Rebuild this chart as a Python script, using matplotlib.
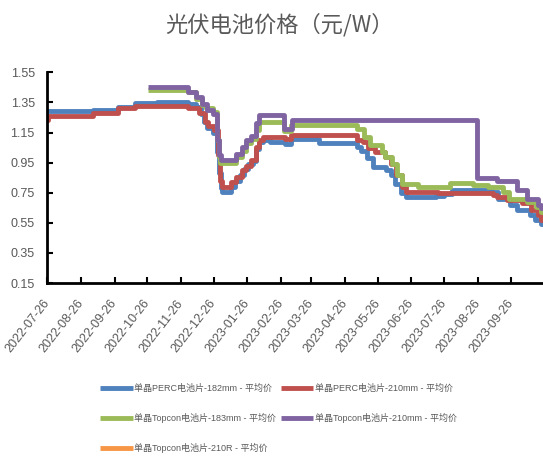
import pandas as pd
import matplotlib
matplotlib.use('Agg')
import matplotlib.pyplot as plt
import matplotlib.dates as mdates

plt.rcParams['font.family'] = ['Liberation Sans', 'Noto Sans CJK SC', 'DejaVu Sans']

title = '光伏电池价格（元/W）'
labels = ['单晶PERC电池片-182mm - 平均价', '单晶PERC电池片-210mm - 平均价',
          '单晶Topcon电池片-183mm - 平均价', '单晶Topcon电池片-210mm - 平均价',
          '单晶Topcon电池片-210R - 平均价']
colors = ['#4F81BD', '#C0504D', '#9BBB59', '#8064A2', '#F79646']

blue_dates = ['2022-07-26', '2022-09-06', '2022-09-29', '2022-10-15', '2022-11-04',
              '2022-12-02', '2022-12-10', '2022-12-14', '2022-12-17', '2022-12-20',
              '2022-12-25', '2022-12-29', '2022-12-31', '2023-01-02', '2023-01-03',
              '2023-01-11', '2023-01-15', '2023-01-19', '2023-01-23', '2023-01-27',
              '2023-01-31', '2023-02-03', '2023-02-06', '2023-02-09', '2023-02-16',
              '2023-03-02', '2023-03-07', '2023-04-02', '2023-05-07', '2023-05-11',
              '2023-05-16', '2023-05-22', '2023-06-03', '2023-06-07', '2023-06-11',
              '2023-06-16', '2023-06-21', '2023-07-19', '2023-07-26', '2023-08-02',
              '2023-09-08', '2023-09-14', '2023-09-25', '2023-10-01', '2023-10-13',
              '2023-10-18', '2023-10-23', '2023-10-25']
blue_vals = [1.29, 1.30, 1.32, 1.345, 1.355,
             1.34, 1.32, 1.27, 1.22, 1.18,
             1.15, 1.02, 0.88, 0.78, 0.755,
             0.79, 0.83, 0.87, 0.91, 0.94,
             0.96, 1.04, 1.09, 1.10, 1.09,
             1.075, 1.11, 1.08, 1.055, 1.03,
             0.98, 0.92, 0.90, 0.87, 0.81,
             0.745, 0.72, 0.73, 0.74, 0.765,
             0.756, 0.71, 0.667, 0.634, 0.60,
             0.568, 0.54, 0.54]

red_dates = ['2022-07-26', '2022-07-27', '2022-09-06', '2022-09-29', '2022-10-15',
             '2022-12-02', '2022-12-13', '2022-12-18', '2022-12-21', '2022-12-26',
             '2022-12-30', '2023-01-01', '2023-01-03', '2023-01-11', '2023-01-16',
             '2023-01-21', '2023-01-25', '2023-01-29', '2023-02-03', '2023-02-06',
             '2023-02-09', '2023-03-02', '2023-03-07', '2023-05-07', '2023-05-12',
             '2023-05-17', '2023-05-23', '2023-06-02', '2023-06-07', '2023-06-12',
             '2023-06-17', '2023-06-21', '2023-07-20', '2023-09-09', '2023-09-13',
             '2023-09-22', '2023-10-06', '2023-10-14', '2023-10-20', '2023-10-23',
             '2023-10-25']
red_vals = [1.23, 1.26, 1.28, 1.31, 1.325,
            1.31, 1.28, 1.22, 1.19, 1.165,
            1.00, 0.83, 0.79, 0.82, 0.855,
            0.90, 0.93, 0.966, 1.055, 1.10,
            1.12, 1.105, 1.135, 1.10, 1.087,
            1.044, 1.02, 0.988, 0.944, 0.867,
            0.79, 0.756, 0.745, 0.734, 0.723,
            0.70, 0.68, 0.634, 0.60, 0.57,
            0.57]

green_dates = ['2022-10-27', '2022-12-02', '2022-12-10', '2022-12-15', '2022-12-19',
               '2022-12-25', '2022-12-29', '2022-12-31', '2023-01-01', '2023-01-16',
               '2023-01-21', '2023-01-25', '2023-01-29', '2023-02-03', '2023-02-06',
               '2023-03-01', '2023-03-07', '2023-05-07', '2023-05-13', '2023-05-19',
               '2023-05-30', '2023-06-02', '2023-06-08', '2023-06-13', '2023-06-17',
               '2023-07-02', '2023-07-31', '2023-08-22', '2023-09-04', '2023-09-18',
               '2023-09-24', '2023-10-10', '2023-10-19', '2023-10-23', '2023-10-25']
green_vals = [1.435, 1.42, 1.375, 1.33, 1.31,
              1.287, 1.10, 0.99, 0.95, 0.988,
              1.03, 1.077, 1.11, 1.165, 1.22,
              1.16, 1.20, 1.176, 1.12, 1.066,
              1.02, 0.988, 0.944, 0.867, 0.807,
              0.785, 0.815, 0.80, 0.785, 0.756,
              0.71, 0.69, 0.656, 0.62, 0.62]

purple_dates = ['2022-10-27', '2022-12-02', '2022-12-10', '2022-12-15', '2022-12-20',
                '2022-12-25', '2022-12-29', '2022-12-31', '2023-01-02', '2023-01-16',
                '2023-01-21', '2023-01-25', '2023-01-29', '2023-02-03', '2023-02-06',
                '2023-03-01', '2023-03-08', '2023-08-25', '2023-09-13', '2023-10-01',
                '2023-10-10', '2023-10-20', '2023-10-23', '2023-10-25']
purple_vals = [1.45, 1.42, 1.386, 1.34, 1.30,
               1.276, 1.10, 1.00, 0.97, 1.01,
               1.055, 1.10, 1.13, 1.21, 1.265,
               1.176, 1.232, 0.845, 0.83, 0.767,
               0.71, 0.67, 0.65, 0.65]

orange_dates = []
orange_vals = []

tick_dates = ['2022-07-26', '2022-08-26', '2022-09-26', '2022-10-26', '2022-11-26',
              '2022-12-26', '2023-01-26', '2023-02-26', '2023-03-26', '2023-04-26',
              '2023-05-26', '2023-06-26', '2023-07-26', '2023-08-26', '2023-09-26']
y_ticks = [0.15, 0.35, 0.55, 0.75, 0.95, 1.15, 1.35, 1.55]

series = [(blue_dates, blue_vals), (red_dates, red_vals), (green_dates, green_vals),
          (purple_dates, purple_vals), (orange_dates, orange_vals)]

fig = plt.figure(figsize=(5.43, 4.57), dpi=100)
ax = fig.add_axes([47.3/543, 1-283/457, 1-47.3/543, (283-72.3)/457])

lines = []
for (d, v), c, lab in zip(series, colors, labels):
    ln, = ax.plot(pd.to_datetime(d), v, drawstyle='steps-post', color=c, lw=3.5,
                  label=lab, solid_capstyle='butt')
    lines.append(ln)

ax.set_ylim(0.15, 1.55)
ax.set_yticks(y_ticks)
ax.set_yticklabels(['%.2f' % t for t in y_ticks])
ax.set_xlim(pd.Timestamp('2022-07-26'), pd.Timestamp('2023-10-25'))
ax.set_xticks(pd.to_datetime(tick_dates))
ax.xaxis.set_major_formatter(mdates.DateFormatter('%Y-%m-%d'))

for s in ['top', 'right']:
    ax.spines[s].set_visible(False)
for s in ['left', 'bottom']:
    ax.spines[s].set_linewidth(2)
    ax.spines[s].set_color('black')
ax.tick_params(axis='both', direction='in', length=4, width=1.5, colors='black',
               labelcolor='#595959', labelsize=9)
ax.tick_params(axis='y', pad=9)
ax.tick_params(axis='x', pad=13)
for lab in ax.get_xticklabels():
    lab.set_rotation(52)
    lab.set_ha('right')
    lab.set_va('center')
    lab.set_rotation_mode('anchor')

fig.text(279/543, 1-25/457, title, ha='center', va='center', fontsize=16,
         color='#595959', family=['Noto Sans CJK SC'])

order = [0, 2, 4, 1, 3]
leg = fig.legend([lines[i] for i in order], [labels[i] for i in order], ncol=2,
                 loc='upper left', bbox_to_anchor=(100/543, 1-384/457),
                 frameon=False, fontsize=6.5, handlelength=3.6, handletextpad=0.2,
                 columnspacing=0.5, labelspacing=2.2, borderpad=0, borderaxespad=0)
for t in leg.get_texts():
    t.set_color('#595959')

fig.savefig('out.png', dpi=100)
